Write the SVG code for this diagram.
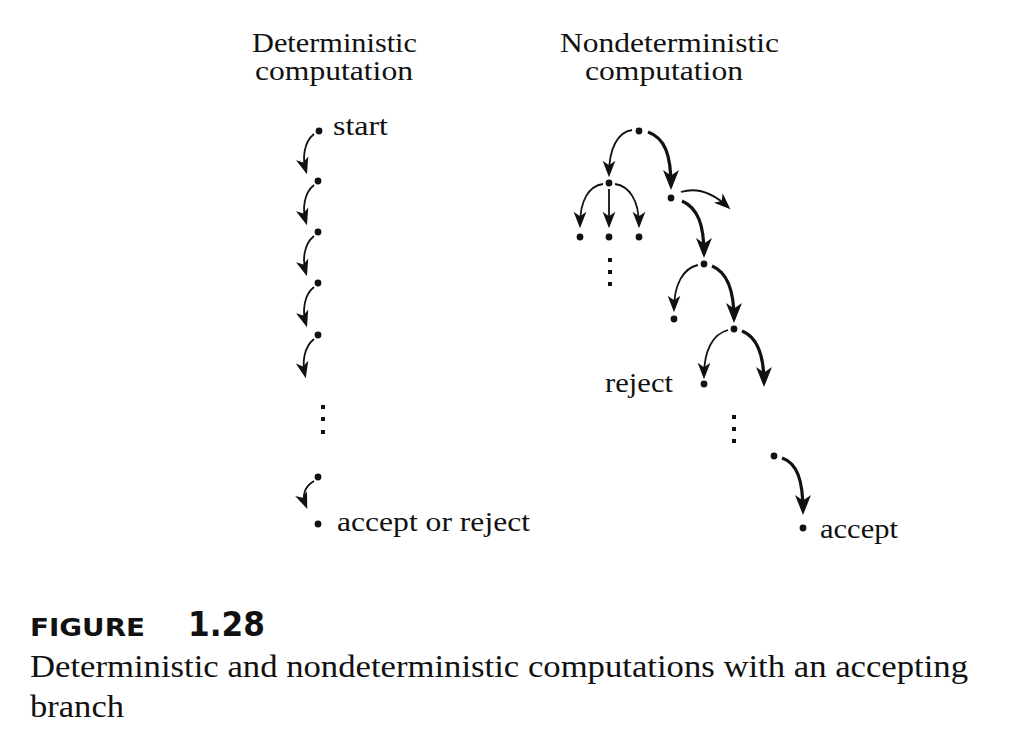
<svg xmlns="http://www.w3.org/2000/svg" width="1016" height="732" viewBox="0 0 1016 732">
<style>
  .t { font-family: "Liberation Serif", "DejaVu Serif", serif; font-size: 28px; fill: #111; }
  .cap { font-family: "Liberation Serif", "DejaVu Serif", serif; font-size: 31px; fill: #111; }
  .fig { font-family: "DejaVu Sans", "Liberation Sans", sans-serif; font-weight: bold; fill: #111; }
  .thin { fill: none; stroke: #111; stroke-width: 1.8; marker-end: url(#ah); }
  .thick { fill: none; stroke: #111; stroke-width: 3.2; marker-end: url(#ahb); }
  .dot { fill: #111; }
  .ell { fill: #111; }
</style>
<defs>
  <marker id="ah" markerUnits="userSpaceOnUse" markerWidth="22" markerHeight="22" viewBox="-16 -9 20 18" refX="0" refY="0" orient="auto">
    <path d="M3,0 L-12,-5.8 L-8,0 L-12,5.8 Z" fill="#111"/>
  </marker>
  <marker id="ahb" markerUnits="userSpaceOnUse" markerWidth="28" markerHeight="28" viewBox="-21 -11 28 22" refX="0" refY="0" orient="auto">
    <path d="M4,0 L-16,-8 L-10.5,0 L-16,8 Z" fill="#111"/>
  </marker>
</defs>

<rect width="1016" height="732" fill="#fff"/>

<g id="titles">
  <text class="t" x="252" y="52" textLength="165" lengthAdjust="spacingAndGlyphs">Deterministic</text>
  <text class="t" x="255" y="80" textLength="158" lengthAdjust="spacingAndGlyphs">computation</text>
  <text class="t" x="560" y="52" textLength="219" lengthAdjust="spacingAndGlyphs">Nondeterministic</text>
  <text class="t" x="585" y="80" textLength="158" lengthAdjust="spacingAndGlyphs">computation</text>
</g>

<g id="connectors">
  <!-- deterministic chain -->
  <path class="thin" d="M314,134 C304,142 302,158 306,171"/>
  <path class="thin" d="M314,185 C304,193 302,209 306,222"/>
  <path class="thin" d="M314,236 C304,244 302,260 306,273"/>
  <path class="thin" d="M314,287 C304,295 302,311 306,324"/>
  <path class="thin" d="M314,339 C304,347 302,362 305,375"/>
  <path class="thin" d="M314,481 C304,487 302,496 306,506"/>
  <!-- nondeterministic tree -->
  <path class="thin" d="M632,130 C618,132 609,148 609,174"/>
  <path class="thick" d="M648,132 C665,138 671,155 671,186"/>
  <path class="thin" d="M603,184 C589,186 580,200 580,225"/>
  <path class="thin" d="M609,189 L609,225"/>
  <path class="thin" d="M615,184 C629,186 639,200 639,225"/>
  <path class="thin" d="M681,192 C697,187 713,193 728,207"/>
  <path class="thick" d="M682,201 C698,208 704,225 704,254"/>
  <path class="thin" d="M698,265 C683,268 674,285 674,309"/>
  <path class="thick" d="M712,266 C727,272 734,290 734,319"/>
  <path class="thin" d="M728,330 C713,334 704,350 704,376"/>
  <path class="thick" d="M742,331 C757,337 764,355 764,383"/>
  <path class="thick" d="M782,458 C797,463 803,480 803,511"/>
</g>

<g id="deterministic">
  <g id="d0"><circle class="dot" cx="319" cy="131" r="3.4"/><text class="t" x="333" y="135" textLength="55" lengthAdjust="spacingAndGlyphs">start</text></g>
  <g id="d1"><circle class="dot" cx="318" cy="181" r="3.4"/></g>
  <g id="d2"><circle class="dot" cx="318" cy="232" r="3.4"/></g>
  <g id="d3"><circle class="dot" cx="318" cy="283" r="3.4"/></g>
  <g id="d4"><circle class="dot" cx="318" cy="335" r="3.4"/></g>
  <g id="d-ellipsis"><rect class="ell" x="321" y="405" width="4" height="4"/><rect class="ell" x="321" y="417" width="4" height="4"/><rect class="ell" x="321" y="430" width="4" height="4"/></g>
  <g id="d5"><circle class="dot" cx="318" cy="477" r="3.4"/></g>
  <g id="d6"><circle class="dot" cx="318" cy="524" r="3.4"/><text class="t" x="337" y="531" textLength="193" lengthAdjust="spacingAndGlyphs">accept or reject</text></g>
</g>

<g id="nondeterministic">
  <g id="n-root"><circle class="dot" cx="639" cy="131" r="3.4"/></g>
  <g id="n-l"><circle class="dot" cx="609" cy="183" r="3.4"/></g>
  <g id="n-r"><circle class="dot" cx="671" cy="198" r="3.4"/></g>
  <g id="n-ll"><circle class="dot" cx="580" cy="237" r="3.4"/></g>
  <g id="n-lm"><circle class="dot" cx="609" cy="237" r="3.4"/></g>
  <g id="n-lr"><circle class="dot" cx="639" cy="237" r="3.4"/></g>
  <g id="n-ellipsis1"><rect class="ell" x="608" y="258" width="4" height="4"/><rect class="ell" x="608" y="270" width="4" height="4"/><rect class="ell" x="608" y="282" width="4" height="4"/></g>
  <g id="n-rr"><circle class="dot" cx="704" cy="264" r="3.4"/></g>
  <g id="n-rrl"><circle class="dot" cx="674" cy="319" r="3.4"/></g>
  <g id="n-rrr"><circle class="dot" cx="734" cy="329" r="3.4"/></g>
  <g id="n-reject"><circle class="dot" cx="704" cy="384" r="3.4"/><text class="t" x="605" y="392" textLength="68" lengthAdjust="spacingAndGlyphs">reject</text></g>
  <g id="n-ellipsis2"><rect class="ell" x="732" y="415" width="4" height="4"/><rect class="ell" x="732" y="427" width="4" height="4"/><rect class="ell" x="732" y="439" width="4" height="4"/></g>
  <g id="n-pre"><circle class="dot" cx="774" cy="456" r="3.4"/></g>
  <g id="n-accept"><circle class="dot" cx="803" cy="528" r="3.4"/><text class="t" x="820" y="538" textLength="78" lengthAdjust="spacingAndGlyphs">accept</text></g>
</g>

<g id="caption">
  <text class="fig" x="30" y="636" font-size="25" textLength="115" lengthAdjust="spacingAndGlyphs">FIGURE</text>
  <text class="fig" x="188" y="636" font-size="33" textLength="77" lengthAdjust="spacingAndGlyphs">1.28</text>
  <text class="cap" x="30" y="677" textLength="938" lengthAdjust="spacingAndGlyphs">Deterministic and nondeterministic computations with an accepting</text>
  <text class="cap" x="30" y="717" textLength="94" lengthAdjust="spacingAndGlyphs">branch</text>
</g>
</svg>
